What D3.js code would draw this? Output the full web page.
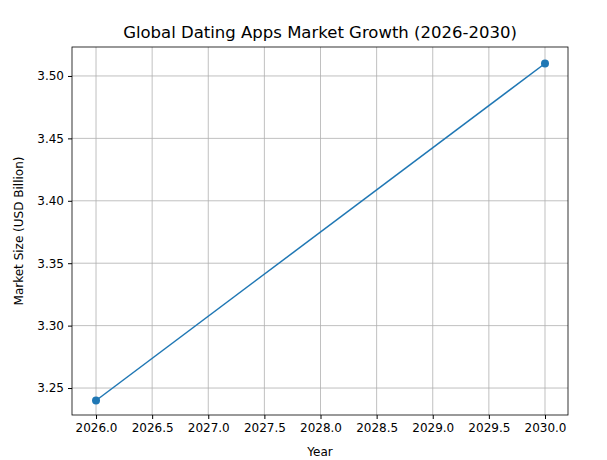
<!DOCTYPE html>
<html><head><meta charset="utf-8">
<script src="https://cdn.jsdelivr.net/npm/d3@7"></script>
<style>body{margin:0;background:#fff}</style></head>
<body><svg id="c" width="607" height="460"></svg>
<script>
const years=[2026,2030];
const values=[3.24,3.51];
const xTicks=[2026,2026.5,2027,2027.5,2028,2028.5,2029,2029.5,2030];
const yTicks=[3.25,3.30,3.35,3.40,3.45,3.50];
const svg=d3.select("#c");
const L=72,R=568,T=47,B=415;
const x=d3.scaleLinear().domain([2025.786,2030.205]).range([L,R]);
const y=d3.scaleLinear().domain([3.2284,3.5232]).range([B,T]);
const font="DejaVu Sans";
const g=svg.append("g");
xTicks.forEach(t=>g.append("line").attr("x1",x(t)).attr("x2",x(t)).attr("y1",T).attr("y2",B).attr("stroke","#b0b0b0").attr("stroke-width",0.8));
yTicks.forEach(t=>g.append("line").attr("x1",L).attr("x2",R).attr("y1",y(t)).attr("y2",y(t)).attr("stroke","#b0b0b0").attr("stroke-width",0.8));
const xa=svg.append("g").attr("transform",`translate(0,${B})`).call(d3.axisBottom(x).tickValues(xTicks).tickFormat(d3.format(".1f")).tickSizeOuter(0).tickSize(4).tickPadding(4));
const ya=svg.append("g").attr("transform",`translate(${L},0)`).call(d3.axisLeft(y).tickValues(yTicks).tickFormat(d3.format(".2f")).tickSizeOuter(0).tickSize(4).tickPadding(4));
[xa,ya].forEach(a=>{a.select(".domain").remove();a.selectAll("text").attr("font-family",font).attr("font-size",12).attr("fill","#000");a.selectAll("line").attr("stroke","#000");});
svg.append("rect").attr("x",L).attr("y",T).attr("width",R-L).attr("height",B-T).attr("fill","none").attr("stroke","#000").attr("stroke-width",0.8);
const pts=years.map((d,i)=>[d,values[i]]);
svg.append("path").datum(pts).attr("d",d3.line().x(d=>x(d[0])).y(d=>y(d[1]))).attr("fill","none").attr("stroke","#1f77b4").attr("stroke-width",1.5);
svg.selectAll("circle.p").data(pts).enter().append("circle").attr("cx",d=>x(d[0])).attr("cy",d=>y(d[1])).attr("r",4).attr("fill","#1f77b4");
svg.append("text").attr("x",(L+R)/2).attr("y",38).attr("text-anchor","middle").attr("font-family",font).attr("font-size",16.5).text("Global Dating Apps Market Growth (2026-2030)");
svg.append("text").attr("x",(L+R)/2).attr("y",456).attr("text-anchor","middle").attr("font-family",font).attr("font-size",12).text("Year");
svg.append("text").attr("transform",`translate(23,${(T+B)/2}) rotate(-90)`).attr("text-anchor","middle").attr("font-family",font).attr("font-size",12).text("Market Size (USD Billion)");
</script></body></html>
